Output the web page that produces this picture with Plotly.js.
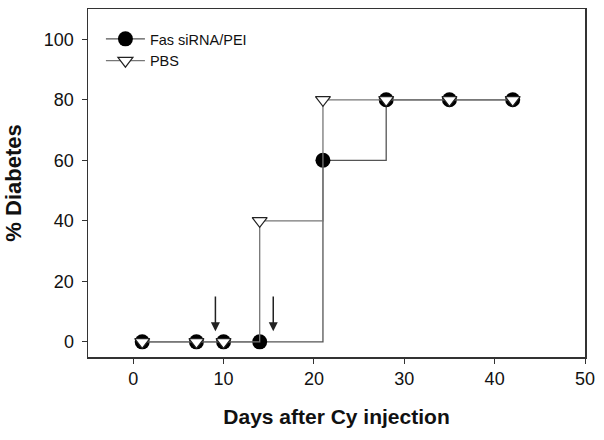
<!DOCTYPE html>
<html>
<head>
<meta charset="utf-8">
<script src="https://cdn.plot.ly/plotly-3.0.1.min.js"></script>
<style>html,body{margin:0;padding:0;background:#fff;}#chart{width:604px;height:440px;}</style>
</head>
<body>
<div id="chart"></div>
<script>
const days = [1, 7, 10, 14, 21, 28, 35, 42];
const fasSiRNA = [0, 0, 0, 0, 60, 80, 80, 80];
const pbs = [0, 0, 0, 40, 80, 80, 80, 80];
const seriesNames = ["Fas siRNA/PEI", "PBS"];
const arrowDays = [9.1, 15.5];
const arrowTop = 15.5;
const arrowTip = 3.5;
const xTicks = [0, 10, 20, 30, 40, 50];
const yTicks = [0, 20, 40, 60, 80, 100];

const font = "Liberation Sans, Arial, sans-serif";

const traces = [
  {
    x: days, y: fasSiRNA, name: seriesNames[0], type: "scatter", mode: "lines+markers",
    line: {shape: "hv", color: "#555", width: 1.3},
    marker: {symbol: "circle", size: 15, color: "#000", line: {width: 0}}
  },
  {
    x: days, y: pbs, name: seriesNames[1], type: "scatter", mode: "lines+markers",
    line: {shape: "hv", color: "#777", width: 1.3},
    marker: {symbol: "triangle-down", size: 13, color: "#fff", line: {width: 1.2, color: "#222"}}
  }
];

const annotations = arrowDays.map(d => ({
  x: d, y: arrowTip, ax: d, ay: arrowTop, xref: "x", yref: "y", axref: "x", ayref: "y",
  showarrow: true, arrowhead: 2, arrowsize: 1.2, arrowwidth: 1.5, arrowcolor: "#222", text: ""
}));

const layout = {
  width: 604, height: 440,
  margin: {l: 88, r: 19, t: 9, b: 83},
  paper_bgcolor: "#fff", plot_bgcolor: "#fff",
  font: {family: font, color: "#111", size: 18},
  showlegend: true,
  legend: {x: 0.026, y: 0.96, xanchor: "left", yanchor: "top", bgcolor: "rgba(0,0,0,0)",
           font: {size: 14.5, family: font}, tracegroupgap: 0, itemwidth: 39},
  xaxis: {
    range: [-5, 50], tickvals: xTicks, ticktext: xTicks.map(String),
    showgrid: false, zeroline: false, showline: true, mirror: true,
    linecolor: "#333", linewidth: 1.5, ticks: "outside", ticklen: 5, tickcolor: "#333",
    tickfont: {size: 18, family: font},
    title: {text: "<b>Days after Cy injection</b>", font: {size: 21, family: font}, standoff: 21}
  },
  yaxis: {
    range: [-5, 110], tickvals: yTicks, ticktext: yTicks.map(String),
    showgrid: false, zeroline: false, showline: true, mirror: true,
    linecolor: "#333", linewidth: 1.5, ticks: "outside", ticklen: 5, tickcolor: "#333",
    tickfont: {size: 18, family: font}, ticklabelstandoff: 4,
    title: {text: "<b>% Diabetes</b>", font: {size: 22, family: font}, standoff: 16}
  },
  annotations: annotations
};

Plotly.newPlot("chart", traces, layout, {staticPlot: true, displayModeBar: false});
</script>
</body>
</html>
